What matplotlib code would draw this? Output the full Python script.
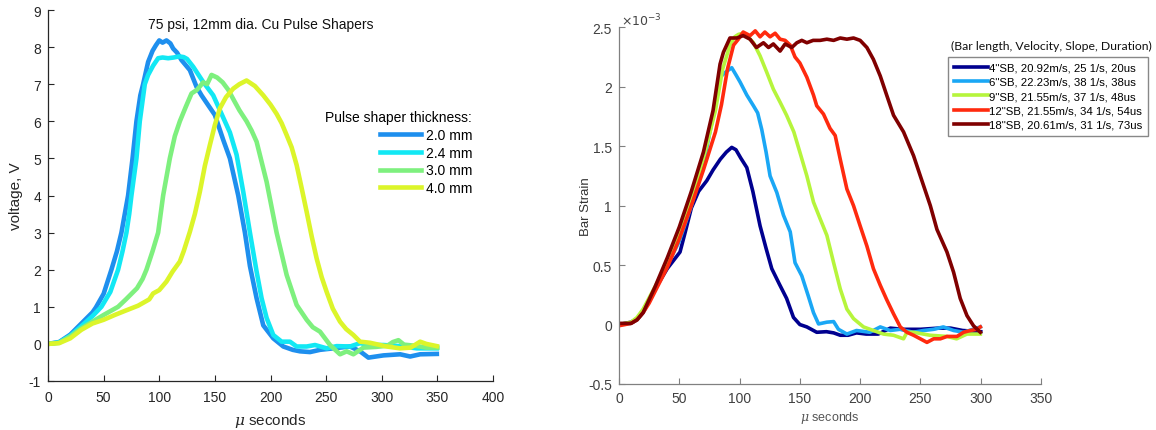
import matplotlib
matplotlib.use("Agg")
import matplotlib.pyplot as plt
from matplotlib.ticker import FuncFormatter

plt.rcParams['font.family'] = ['Liberation Sans', 'DejaVu Sans']
plt.rcParams['mathtext.fontset'] = 'custom'
plt.rcParams['mathtext.it'] = 'DejaVu Serif:italic'

# ---------------- Left chart data (voltage, V vs µs) ----------------
ps_labels = ["2.0 mm", "2.4 mm", "3.0 mm", "4.0 mm"]
ps_colors = ["#1E8FEE", "#12E8F4", "#7EF07E", "#DCF52A"]

t_20 = [0, 10, 20, 30, 40, 43, 50, 57, 62, 66, 69, 72, 76, 79.5, 83, 85.5, 90, 94, 97, 100, 103, 106.5,
        110, 112.5, 116, 120, 127.5, 133.5, 138, 142.5, 150, 157.5, 163.5, 171, 177, 181.5, 187.5, 193.5,
        202.5, 211.5, 220, 226.5, 235.5, 244.5, 256.5, 271.5, 280.5, 288, 301.5, 316.5, 325.5, 334.5, 349.5]
v_20 = [0, 0.05, 0.25, 0.55, 0.85, 0.98, 1.35, 2.0, 2.5, 3.0, 3.5, 4.0, 5.0, 6.0, 6.7, 7.0, 7.6, 7.9, 8.05,
        8.18, 8.12, 8.18, 8.1, 7.96, 7.85, 7.65, 7.38, 6.93, 6.7, 6.5, 6.17, 5.5, 5.0, 4.0, 3.0, 2.1, 1.23, 0.5,
        0.15, -0.07, -0.16, -0.2, -0.22, -0.16, -0.12, -0.07, -0.2, -0.37, -0.31, -0.28, -0.34, -0.28, -0.27]

t_24 = [0, 10, 20, 30, 40, 48, 56, 63, 67, 70.5, 73, 75, 79.5, 82.5, 87, 90, 94.5, 99, 103, 108, 113,
        118, 122, 125, 130.5, 139.5, 148.5, 156, 163.5, 169.5, 175.5, 181.5, 187.5, 192, 196.5, 202.5, 210,
        217.5, 223.5, 232.5, 240, 250.5, 259.5, 271.5, 280.5, 289.5, 301.5, 316.5, 331.5, 349.5]
v_24 = [0, 0.04, 0.22, 0.48, 0.75, 1.0, 1.4, 2.0, 2.5, 3.0, 3.5, 4.0, 5.0, 6.0, 7.0, 7.25, 7.5, 7.7, 7.72,
        7.7, 7.72, 7.75, 7.73, 7.68, 7.47, 7.06, 6.7, 6.2, 5.7, 5.1, 4.1, 3.0, 1.95, 1.23, 0.7, 0.24, 0.06,
        0.06, -0.07, -0.07, -0.03, -0.12, -0.06, -0.07, 0.02, -0.03, -0.03, -0.06, -0.12, -0.12]

t_30 = [0, 10, 20, 30, 40, 50, 63, 70, 75, 80, 85, 88.5, 94, 99, 103.5, 109.5, 114, 118.5, 124, 129,
        134, 139.5, 143, 147, 152, 157, 162, 166.5, 172, 178.5, 183, 187.5, 196.5, 205.5, 214.5, 223.5,
        232.5, 238, 244.5, 253.5, 262.5, 268.5, 274.5, 283.5, 295, 305, 310, 315, 320, 330, 340, 350]
v_30 = [0, 0.03, 0.2, 0.42, 0.6, 0.78, 1.0, 1.2, 1.35, 1.5, 1.75, 2.0, 2.5, 3.0, 4.0, 5.0, 5.6, 6.0, 6.4, 6.75,
        6.85, 7.05, 7.0, 7.25, 7.18, 7.05, 6.85, 6.6, 6.3, 6.0, 5.75, 5.45, 4.37, 3.0, 1.86, 1.05,
        0.65, 0.45, 0.33, -0.03, -0.28, -0.2, -0.28, -0.1, -0.08, -0.05, 0.05, 0.1, -0.02, -0.05, -0.1, -0.1]

t_40 = [0, 10, 20, 30, 40, 50, 60, 70, 81, 91, 94.5, 100, 106.5, 112, 118.5, 122, 127.5, 132, 136.5,
        141, 145.5, 150, 154.5, 160, 166.5, 172, 178.5, 186, 193.5, 200, 205.5, 210, 214.5, 219, 223.5,
        228, 232.5, 237, 241.5, 246, 250.5, 256, 262.5, 268, 274.5, 280.5, 289.5, 304.5, 316.5, 326, 334.5,
        340, 349.5]
v_40 = [0, 0.02, 0.15, 0.38, 0.55, 0.65, 0.78, 0.9, 1.03, 1.2, 1.36, 1.45, 1.68, 1.95, 2.22, 2.5, 3.02,
        3.5, 4.1, 4.8, 5.36, 5.9, 6.35, 6.65, 6.88, 7.0, 7.1, 6.95, 6.7, 6.45, 6.2, 5.95, 5.63, 5.3,
        4.82, 4.2, 3.56, 2.9, 2.3, 1.8, 1.4, 0.95, 0.6, 0.4, 0.24, 0.06, 0.03, -0.07, -0.12, -0.1, 0.06,
        0.0, -0.06]

ps_t = [t_20, t_24, t_30, t_40]
ps_v = [v_20, v_24, v_30, v_40]

# ---------------- Right chart data (bar strain, x1e-3 vs µs) ----------------
sb_labels = ['4"SB, 20.92m/s, 25 1/s, 20us', '6"SB, 22.23m/s, 38 1/s, 38us',
             '9"SB, 21.55m/s, 37 1/s, 48us', '12"SB, 21.55m/s, 34 1/s, 54us',
             '18"SB, 20.61m/s, 31 1/s, 73us']
sb_colors = ["#00008F", "#1AA7F5", "#B6F53C", "#FF2A0E", "#800000"]

t_4 = [0, 10, 15, 20, 30, 40, 50.6, 55, 60, 66, 72.8, 78, 84, 89, 93.5, 97, 101, 106, 111, 117, 122,
       126.7, 133, 139, 144.7, 150, 155.8, 164, 172, 178, 183.5, 190, 197, 205, 215, 225, 235, 250, 265,
       275, 285, 300]
s_4 = [0, 0.02, 0.05, 0.12, 0.3, 0.47, 0.61, 0.78, 0.98, 1.12, 1.21, 1.3, 1.39, 1.45, 1.49, 1.47, 1.4,
       1.32, 1.12, 0.83, 0.64, 0.47, 0.34, 0.22, 0.06, 0.0, -0.02, -0.065, -0.06, -0.07, -0.09, -0.09,
       -0.07, -0.08, -0.08, -0.03, -0.04, -0.04, -0.03, -0.03, -0.05, -0.06]

t_6 = [0, 10, 15, 20, 30, 40, 50, 60, 70, 78, 83.8, 88, 93.5, 97, 100.4, 106, 111.5, 115, 118.4, 122,
       125.3, 130.9, 136.4, 142, 146, 151.6, 157, 161.3, 165.5, 172.4, 178, 182, 189, 197, 208, 216.7,
       225, 233, 244, 252.6, 261, 269, 277.5, 285.8, 299.7]
s_6 = [0, 0.01, 0.04, 0.1, 0.3, 0.5, 0.7, 1.0, 1.35, 1.75, 2.08, 2.12, 2.16, 2.1, 2.04, 1.93, 1.84, 1.78,
       1.64, 1.45, 1.25, 1.11, 0.92, 0.78, 0.52, 0.41, 0.24, 0.1, 0.005, 0.02, 0.025, -0.04, -0.08, -0.05,
       -0.065, -0.02, -0.05, -0.04, -0.065, -0.05, -0.04, -0.02, -0.05, -0.065, -0.02]

t_9 = [0, 10, 15, 20, 30, 40, 50, 60, 70, 80, 86, 92, 96, 99, 103, 106, 111.5, 117, 122.6, 128, 133.6,
       139, 145, 150, 155.8, 161.3, 166.8, 172.4, 178, 183.5, 189, 194.5, 202.8, 211, 219.4, 227.7, 236,
       238.8, 244.3, 258, 272, 280, 288.6, 299.7]
s_9 = [0, 0.02, 0.06, 0.13, 0.32, 0.52, 0.75, 1.05, 1.4, 1.8, 2.15, 2.35, 2.42, 2.44, 2.45, 2.43, 2.37,
       2.26, 2.12, 1.98, 1.87, 1.76, 1.62, 1.45, 1.25, 1.03, 0.89, 0.75, 0.52, 0.3, 0.13, 0.05, -0.02,
       -0.05, -0.08, -0.09, -0.12, -0.065, -0.065, -0.09, -0.1, -0.12, -0.08, -0.08]

t_12 = [0, 10, 15, 20, 25, 30, 40, 50, 60, 70, 80, 85, 90, 95, 99, 103, 108.7, 113, 117, 121, 125.3,
        129.5, 133.6, 137.8, 142, 146, 150, 155.8, 161.3, 164, 169.6, 175, 179.3, 183.5, 189, 194.5, 200,
        205.6, 211, 216.7, 222, 227.7, 233.3, 238.8, 244.3, 249.9, 255.4, 261, 266.5, 272, 280.3, 285.8,
        291.4, 296.9, 299.7]
s_12 = [-0.01, 0.01, 0.04, 0.1, 0.18, 0.28, 0.48, 0.72, 1.0, 1.3, 1.62, 1.85, 2.15, 2.35, 2.4, 2.46,
        2.43, 2.47, 2.42, 2.46, 2.42, 2.45, 2.4, 2.39, 2.35, 2.25, 2.2, 2.08, 1.93, 1.84, 1.77, 1.65, 1.59,
        1.39, 1.14, 1.0, 0.83, 0.66, 0.47, 0.33, 0.21, 0.09, -0.02, -0.065, -0.09, -0.12, -0.15, -0.12,
        -0.12, -0.1, -0.1, -0.065, -0.05, -0.04, -0.02]

t_18 = [0, 10, 15, 20, 30, 40, 50, 60, 70, 78, 83.8, 86.6, 92, 97.7, 103, 108.7, 114, 119.8, 124, 128,
        133.6, 137.8, 143.3, 147.5, 151.6, 155.8, 161, 166.8, 172.4, 178, 183.5, 189, 194.5, 200, 205.6,
        211, 216.7, 222, 227.7, 236, 244.3, 249.9, 258.2, 263.7, 272, 277.5, 283, 288.6, 294, 299.7]
s_18 = [0.01, 0.01, 0.04, 0.1, 0.32, 0.56, 0.82, 1.12, 1.45, 1.8, 2.19, 2.29, 2.41, 2.41, 2.43, 2.4,
        2.33, 2.37, 2.33, 2.36, 2.3, 2.36, 2.33, 2.37, 2.39, 2.37, 2.39, 2.39, 2.4, 2.39, 2.41, 2.4, 2.41,
        2.39, 2.33, 2.23, 2.09, 1.93, 1.76, 1.62, 1.42, 1.25, 1.0, 0.8, 0.61, 0.44, 0.22, 0.075, -0.01,
        -0.065]

sb_t = [t_4, t_6, t_9, t_12, t_18]
sb_s = [s_4, s_6, s_9, s_12, s_18]

# ---------------- Figure ----------------
fig = plt.figure(figsize=(11.56, 4.31), dpi=100)
W, H = 1156, 431
axL = fig.add_axes([48 / W, 1 - 382 / H, (493 - 48) / W, (382 - 11) / H])
axR = fig.add_axes([619 / W, 1 - 385 / H, (1041 - 619) / W, (385 - 28.3) / H])

fmt = FuncFormatter(lambda v, p: ('%g' % v))

# Left
for t, v, c, lab in zip(ps_t, ps_v, ps_colors, ps_labels):
    axL.plot(t, v, color=c, lw=3.3, label=lab, solid_joinstyle='round')
axL.set_xlim(0, 400)
axL.set_ylim(-1, 9)
axL.set_xticks(range(0, 401, 50))
axL.set_yticks(range(-1, 10))
axL.xaxis.set_major_formatter(fmt)
axL.yaxis.set_major_formatter(fmt)
axL.set_xlabel(r'$\mu$ seconds', fontsize=11, color='#262626', labelpad=5)
axL.set_ylabel('voltage, V', fontsize=11, color='#262626')
axL.yaxis.set_label_coords(-0.056, 0.5)
axL.text(0.479, 0.962, '75 psi, 12mm dia. Cu Pulse Shapers', transform=axL.transAxes,
         ha='center', va='center', fontsize=10, color='#111111')
legL = axL.legend(title='Pulse shaper thickness:', loc='upper right', bbox_to_anchor=(0.953, 0.73),
                  frameon=False, fontsize=10, title_fontsize=10, alignment='right', borderpad=0,
                  handlelength=2.9, handletextpad=0.35, labelspacing=0.27, borderaxespad=0)
for sp in ['top', 'right']:
    axL.spines[sp].set_visible(False)
for sp in ['left', 'bottom']:
    axL.spines[sp].set_color('#262626')
    axL.spines[sp].set_linewidth(0.9)
axL.tick_params(direction='in', length=4.5, labelsize=10, colors='#262626')
axL.tick_params(axis='x', pad=6.5)
axL.tick_params(axis='y', pad=5)

# Right
for t, s, c, lab in zip(sb_t, sb_s, sb_colors, sb_labels):
    axR.plot(t, s, color=c, lw=2.6, label=lab, solid_joinstyle='round')
axR.set_xlim(0, 350)
axR.set_ylim(-0.5, 2.5)
axR.set_xticks(range(0, 351, 50))
axR.set_yticks([-0.5, 0, 0.5, 1, 1.5, 2, 2.5])
axR.xaxis.set_major_formatter(fmt)
axR.yaxis.set_major_formatter(fmt)
axR.set_xlabel(r'$\mu$ seconds', fontsize=9, color='#555555', labelpad=3)
axR.set_ylabel('Bar Strain', fontsize=9.5, color='#333333')
axR.yaxis.set_label_coords(-0.064, 0.5)
axR.text(0.005, 0.998, r'$\times10^{-3}$', transform=axR.transAxes, ha='left', va='bottom',
         fontsize=9, color='#444444')
for sp in ['top', 'right']:
    axR.spines[sp].set_visible(False)
for sp in ['left', 'bottom']:
    axR.spines[sp].set_color('#808080')
    axR.spines[sp].set_linewidth(0.9)
axR.tick_params(direction='in', length=4.5, labelsize=10, colors='#808080', labelcolor='#404040', pad=5)
legR = axR.legend(loc='upper right', bbox_to_anchor=(1.2536, 0.917), borderaxespad=0,
                  fontsize=8.2, handlelength=3.0, handletextpad=0.1, labelspacing=0.38,
                  borderpad=0.5, fancybox=False, edgecolor='#888888', framealpha=1)
legR.get_frame().set_linewidth(1.0)
fig.text(1051 / W, 1 - 46.5 / H, '(Bar length, Velocity, Slope, Duration)', ha='center', va='center',
         fontsize=8.8, family=['Lato', 'DejaVu Sans'], color='#111111')

fig.savefig('out.png', dpi=100)
